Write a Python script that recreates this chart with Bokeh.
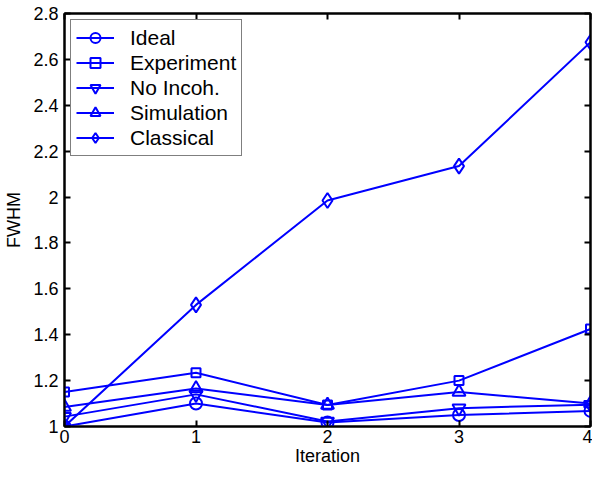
from bokeh.plotting import figure
from bokeh.models import LinearAxis, Range1d, FixedTicker, Legend, LegendItem, CustomJSTickFormatter
from bokeh.embed import file_html
from bokeh.resources import INLINE

iteration = [0, 1, 2, 3, 4]
ideal = [1.00, 1.10, 1.017, 1.05, 1.068]
experiment = [1.15, 1.234, 1.094, 1.20, 1.425]
no_incoh = [1.043, 1.14, 1.022, 1.08, 1.095]
simulation = [1.085, 1.166, 1.094, 1.15, 1.10]
classical = [1.00, 1.53, 1.985, 2.135, 2.675]

y_ticks = [1.0, 1.2, 1.4, 1.6, 1.8, 2.0, 2.2, 2.4, 2.6, 2.8]
y_tick_labels = ["1", "1.2", "1.4", "1.6", "1.8", "2", "2.2", "2.4", "2.6", "2.8"]
x_ticks = [0, 1, 2, 3, 4]

FONT = "Liberation Sans"
BLUE = "#0000ff"

p = figure(width=592, height=468, output_backend="svg", toolbar_location=None,
           x_range=Range1d(0, 4), y_range=Range1d(1, 2.8),
           min_border_left=64, min_border_right=2, min_border_top=13, min_border_bottom=40)
p.grid.visible = False
p.outline_line_color = "black"
p.outline_line_width = 2
p.background_fill_color = "white"

def style_axis(ax, labels=True):
    ax.axis_line_width = 2
    ax.axis_line_color = "black"
    ax.major_tick_in = 6
    ax.major_tick_out = 0
    ax.major_tick_line_width = 2
    ax.minor_tick_line_color = None
    ax.major_label_text_font = FONT
    ax.major_label_text_font_size = "18px"
    ax.major_label_text_color = "black"
    ax.axis_label_text_font = FONT
    ax.axis_label_text_font_size = "18px"
    ax.axis_label_text_font_style = "normal"
    ax.axis_label_text_color = "black"
    if not labels:
        ax.formatter = CustomJSTickFormatter(code="return ''")
        ax.major_label_standoff = 0

p.xaxis.ticker = FixedTicker(ticks=x_ticks)
p.yaxis.ticker = FixedTicker(ticks=y_ticks)
p.yaxis.major_label_overrides = {t: l for t, l in zip(y_ticks, y_tick_labels)}
p.xaxis.axis_label = "Iteration"
p.yaxis.axis_label = "FWHM"
style_axis(p.xaxis[0])
style_axis(p.yaxis[0])
p.xaxis.major_label_standoff = 3
p.xaxis.axis_label_standoff = 0
p.yaxis.major_label_standoff = 6
p.yaxis.axis_label_standoff = 6

top = LinearAxis(ticker=FixedTicker(ticks=x_ticks))
right = LinearAxis(ticker=FixedTicker(ticks=y_ticks))
style_axis(top, labels=False)
style_axis(right, labels=False)
p.add_layout(top, "above")
p.add_layout(right, "right")

series = [
    ("Ideal", ideal, "circle", 12),
    ("Experiment", experiment, "square", 9),
    ("No Incoh.", no_incoh, "inverted_triangle", 13),
    ("Simulation", simulation, "triangle", 13),
    ("Classical", classical, "diamond", 15),
]

items = []
for name, ys, marker, size in series:
    l = p.line(iteration, ys, line_color=BLUE, line_width=2)
    s = p.scatter(iteration, ys, marker=marker, size=size, line_color=BLUE,
                  line_width=2, fill_color=None)
    items.append(LegendItem(label=name, renderers=[l, s]))

legend = Legend(items=items, location="top_left")
legend.label_text_font = FONT
legend.label_text_font_size = "21px"
legend.label_text_color = "black"
legend.glyph_width = 38
legend.glyph_height = 25
legend.label_height = 25
legend.spacing = 0
legend.padding = 5
legend.margin = 6
legend.label_standoff = 16
legend.border_line_color = "black"
legend.border_line_width = 1
legend.background_fill_color = "white"
legend.background_fill_alpha = 1
p.add_layout(legend, "center")

open("out.html", "w").write(file_html(p, INLINE))
